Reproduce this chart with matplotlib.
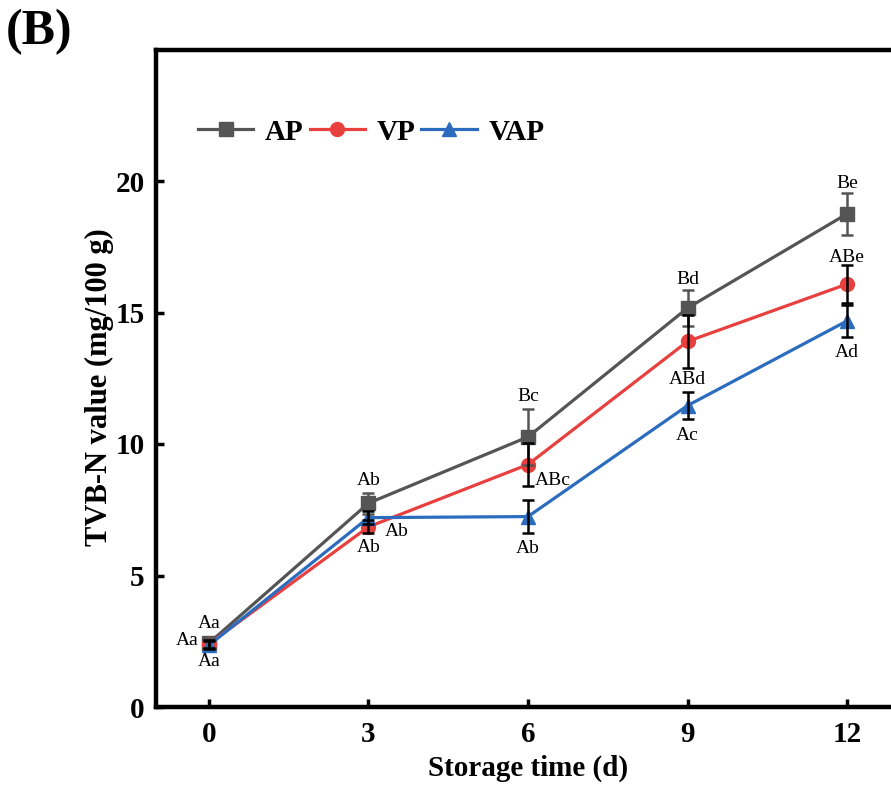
import numpy as np
import matplotlib
matplotlib.use('Agg')
import matplotlib.pyplot as plt

plt.rcParams['font.family'] = ['Liberation Serif', 'DejaVu Serif']

days = [0, 3, 6, 9, 12]

ap = [2.43, 7.75, 10.27, 15.17, 18.75]
ap_err = [0.2, 0.4, 1.05, 0.7, 0.8]
ap_lab = ['Aa', 'Ab', 'Bc', 'Bd', 'Be']

vp = [2.40, 6.85, 9.22, 13.90, 16.08]
vp_err = [0.15, 0.25, 0.8, 1.0, 0.72]
vp_lab = ['Aa', 'Ab', 'ABc', 'ABd', 'ABe']

vap = [2.35, 7.20, 7.24, 11.46, 14.68]
vap_err = [0.15, 0.25, 0.62, 0.5, 0.6]
vap_lab = ['Aa', 'Ab', 'Ab', 'Ac', 'Ad']

# label offsets in pixels (dx, dy)
ap_off = [(0, 20), (0, 23), (0, 40), (0, 29), (0, 30)]
vp_off = [(-22, 3), (0, -21), (25, -16), (0, -38), (0, 27)]
vap_off = [(0, -16), (28, -14), (0, -32), (0, -30), (0, -32)]

fig = plt.figure(figsize=(8.91, 7.88), dpi=100)
ax = fig.add_axes([155.8/891, 81/788, 744.4/891, 657.5/788])

series = [
    ('AP', ap, ap_err, ap_lab, ap_off, '#555555', 's', '#555555'),
    ('VP', vp, vp_err, vp_lab, vp_off, '#e8403f', 'o', 'black'),
    ('VAP', vap, vap_err, vap_lab, vap_off, '#2b6cbf', '^', 'black'),
]

for name, y, err, labs, offs, col, mk, ecol in series:
    ax.plot(days, y, color=col, lw=2.3, marker=mk, ms=10, label=name, zorder=3)
    ax.errorbar(days, y, yerr=err, fmt='none', ecolor=ecol, elinewidth=1.8,
                capsize=4.5, capthick=1.8, zorder=4)
    for x, v, t, (dx, dy) in zip(days, y, labs, offs):
        ax.annotate(t, (x, v), xytext=(dx, dy), textcoords='offset pixels',
                    ha='center', va='center', fontsize=14)

ax.set_xlim(-1, 13)
ax.set_ylim(0, 25)
ax.set_xticks(days)
ax.set_yticks([0, 5, 10, 15, 20])
ax.tick_params(direction='in', length=6, width=2.5, labelsize=21)
ax.tick_params(axis='x', pad=10)
ax.tick_params(axis='y', pad=8)
for lab in ax.get_xticklabels() + ax.get_yticklabels():
    lab.set_fontweight('bold')
for sp in ax.spines.values():
    sp.set_linewidth(3.2)

ax.set_xlabel('Storage time (d)', fontsize=21, fontweight='bold', labelpad=5)
ax.set_ylabel('TVB-N value (mg/100 g)', fontsize=22, fontweight='bold')
ax.yaxis.set_label_coords(-0.056, 0.487)

ax.legend(loc='center left', bbox_to_anchor=(0.041, 0.8745), ncol=3, frameon=False,
          prop={'size': 21, 'weight': 'bold'}, handlelength=1.9,
          handletextpad=0.4, columnspacing=0.2, borderaxespad=0)

fig.text(0.007, 0.959, '(B)', fontsize=36, fontweight='bold', va='center')

plt.savefig('out.png', dpi=100)
